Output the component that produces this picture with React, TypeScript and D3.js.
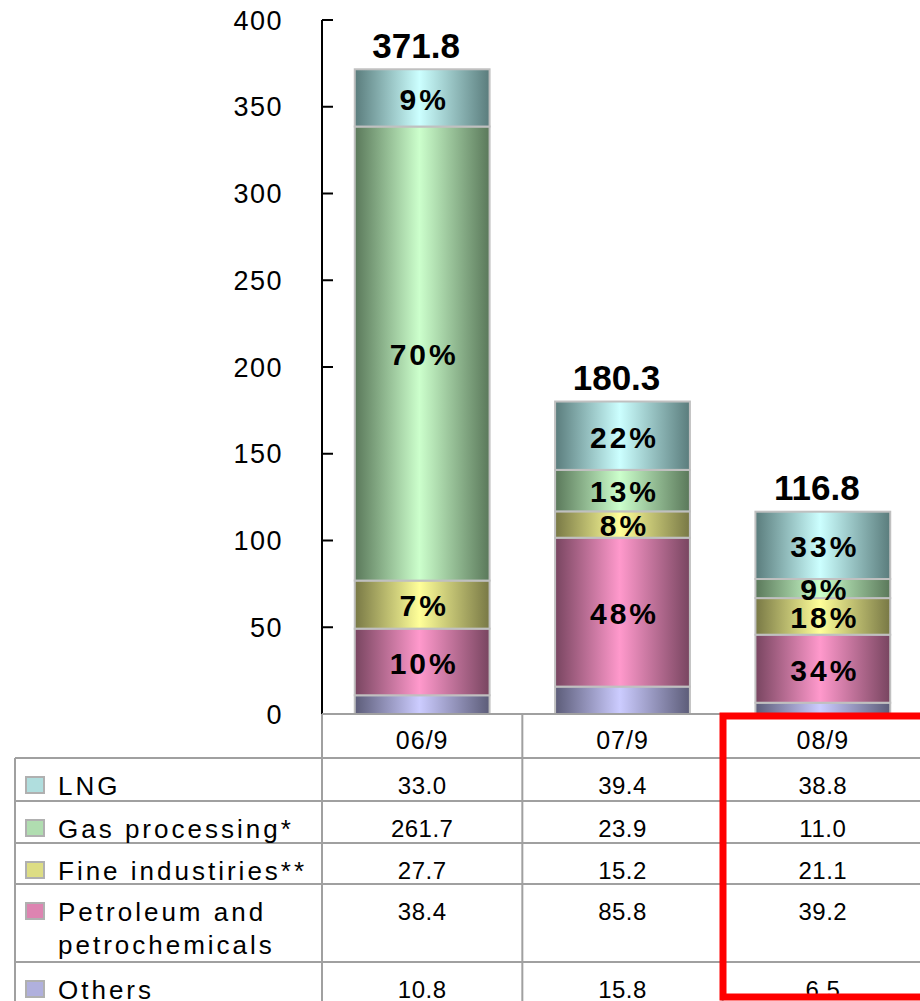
import * as d3 from 'd3'

const PERIODS = ['06/9', '07/9', '08/9']
const SERIES = ['LNG', 'Gas processing*', 'Fine industiries**', 'Petroleum and petrochemicals', 'Others']
const LEGEND_LINES = [['LNG'], ['Gas processing*'], ['Fine industiries**'], ['Petroleum and', 'petrochemicals'], ['Others']]
const LNG = [33.0, 39.4, 38.8]
const GAS = [261.7, 23.9, 11.0]
const FINE = [27.7, 15.2, 21.1]
const PETRO = [38.4, 85.8, 39.2]
const OTHERS = [10.8, 15.8, 6.5]
const TOTALS = [371.8, 180.3, 116.8]
const Y_TICKS = [0, 50, 100, 150, 200, 250, 300, 350, 400]

// edge (dark) / center (light) colours per series
const COLORS: Record<string, [string, string]> = {
  LNG: ['#5a7c7c', '#ccffff'],
  'Gas processing*': ['#5a785a', '#ccffcc'],
  'Fine industiries**': ['#787845', '#ffff99'],
  'Petroleum and petrochemicals': ['#784560', '#ff99cc'],
  Others: ['#5c5c78', '#ccccff'],
}

const VALUES: Record<string, number[]> = {
  LNG: LNG,
  'Gas processing*': GAS,
  'Fine industiries**': FINE,
  'Petroleum and petrochemicals': PETRO,
  Others: OTHERS,
}

// stacking from the bottom
const STACK_ORDER = ['Others', 'Petroleum and petrochemicals', 'Fine industiries**', 'Gas processing*', 'LNG']

const W = 920
const H = 1001
const AXIS_X = 322
const Y_TOP = 20
const Y_BOTTOM = 714
const ROW_TOPS = [758, 801, 843, 884, 962, 1010]
const GRID = '#a0a0a0'
const FONT = 'Arial, "Liberation Sans", sans-serif'

export default function App() {
  const x = d3.scaleBand<string>().domain(PERIODS).range([AXIS_X, AXIS_X + 601]).paddingInner(0).paddingOuter(0)
  const y = d3.scaleLinear().domain([0, 400]).range([Y_BOTTOM, Y_TOP])
  const barW = x.bandwidth() * 0.673

  const tableData = PERIODS.map((p, i) => {
    const row: Record<string, number | string> = { period: p }
    SERIES.forEach((s) => (row[s] = VALUES[s][i]))
    return row
  })
  const stacked = d3.stack<Record<string, number | string>>().keys(STACK_ORDER)(tableData as any)

  const gradId = (s: string) => 'g' + SERIES.indexOf(s)

  return (
    <svg width={W} height={H} style={{ position: 'absolute', left: 0, top: 0, background: '#fff' }} fontFamily={FONT}>
      <defs>
        {SERIES.map((s) => (
          <linearGradient key={s} id={gradId(s)} x1="0" x2="1" y1="0" y2="0">
            <stop offset="0" stopColor={COLORS[s][0]} />
            <stop offset="0.48" stopColor={COLORS[s][1]} />
            <stop offset="1" stopColor={COLORS[s][0]} />
          </linearGradient>
        ))}
      </defs>

      {/* y axis */}
      <line x1={AXIS_X} x2={AXIS_X} y1={y(400)} y2={y(0)} stroke="#000" strokeWidth={2} />
      {Y_TICKS.map((t) => (
        <g key={t}>
          <line x1={AXIS_X} x2={AXIS_X + 11} y1={y(t)} y2={y(t)} stroke="#000" strokeWidth={2} />
          <text x={283} y={y(t)} dy="0.36em" textAnchor="end" fontSize={27} letterSpacing={1.5}>
            {t}
          </text>
        </g>
      ))}

      {/* bars */}
      {stacked.map((layer) => (
        <g key={layer.key}>
          {layer.map((d, i) => {
            const x0 = (x(PERIODS[i]) ?? 0) + (x.bandwidth() - barW) / 2
            const top = y(d[1])
            const bottom = y(d[0])
            const pct = Math.round((VALUES[layer.key][i] / TOTALS[i]) * 100)
            return (
              <g key={i}>
                <rect x={x0} y={top} width={barW} height={bottom - top} fill={`url(#${gradId(layer.key)})`} stroke="#c0c0c0" strokeWidth={2} />
                {layer.key !== 'Others' && (
                  <text x={x0 + barW / 2 + 2} y={(top + bottom) / 2 + 1} dy="0.36em" textAnchor="middle" fontSize={30} fontWeight="bold" letterSpacing={3}>
                    {pct}%
                  </text>
                )}
              </g>
            )
          })}
        </g>
      ))}

      {TOTALS.map((t, i) => (
        <text key={i} x={(x(PERIODS[i]) ?? 0) + x.bandwidth() / 2 - 6} y={y(t) - 11} textAnchor="middle" fontSize={35} fontWeight="bold">
          {t.toFixed(1)}
        </text>
      ))}

      {/* data table */}
      <g stroke={GRID} strokeWidth={2}>
        <line x1={AXIS_X} x2={W} y1={Y_BOTTOM} y2={Y_BOTTOM} />
        {ROW_TOPS.slice(0, -1).map((r) => (
          <line key={r} x1={15} x2={W} y1={r} y2={r} />
        ))}
        <line x1={15} x2={15} y1={ROW_TOPS[0]} y2={H} />
        {PERIODS.map((p) => (
          <line key={p} x1={x(p)} x2={x(p)} y1={Y_BOTTOM} y2={H} />
        ))}
      </g>
      {PERIODS.map((p) => (
        <text key={p} x={(x(p) ?? 0) + x.bandwidth() / 2} y={Y_BOTTOM + 35} textAnchor="middle" fontSize={25} letterSpacing={1}>
          {p}
        </text>
      ))}
      {SERIES.map((s, r) => (
        <g key={s}>
          <rect
            x={26}
            y={ROW_TOPS[r] + 19}
            width={18}
            height={16}
            fill={d3.interpolateRgb(COLORS[s][0], COLORS[s][1])(0.75)}
            stroke="#b0b0b0"
            strokeWidth={2}
          />
          {LEGEND_LINES[r].map((line, k) => (
            <text key={k} x={58} y={ROW_TOPS[r] + 37 + k * 33} fontSize={26} letterSpacing={3}>
              {line}
            </text>
          ))}
          {PERIODS.map((p, i) => (
            <text key={p} x={(x(p) ?? 0) + x.bandwidth() / 2} y={ROW_TOPS[r] + 36} textAnchor="middle" fontSize={24} letterSpacing={0.5}>
              {VALUES[s][i].toFixed(1)}
            </text>
          ))}
        </g>
      ))}

      {/* highlight box */}
      <rect x={723} y={716} width={240} height={281} fill="none" stroke="#ff0000" strokeWidth={7} />
    </svg>
  )
}
